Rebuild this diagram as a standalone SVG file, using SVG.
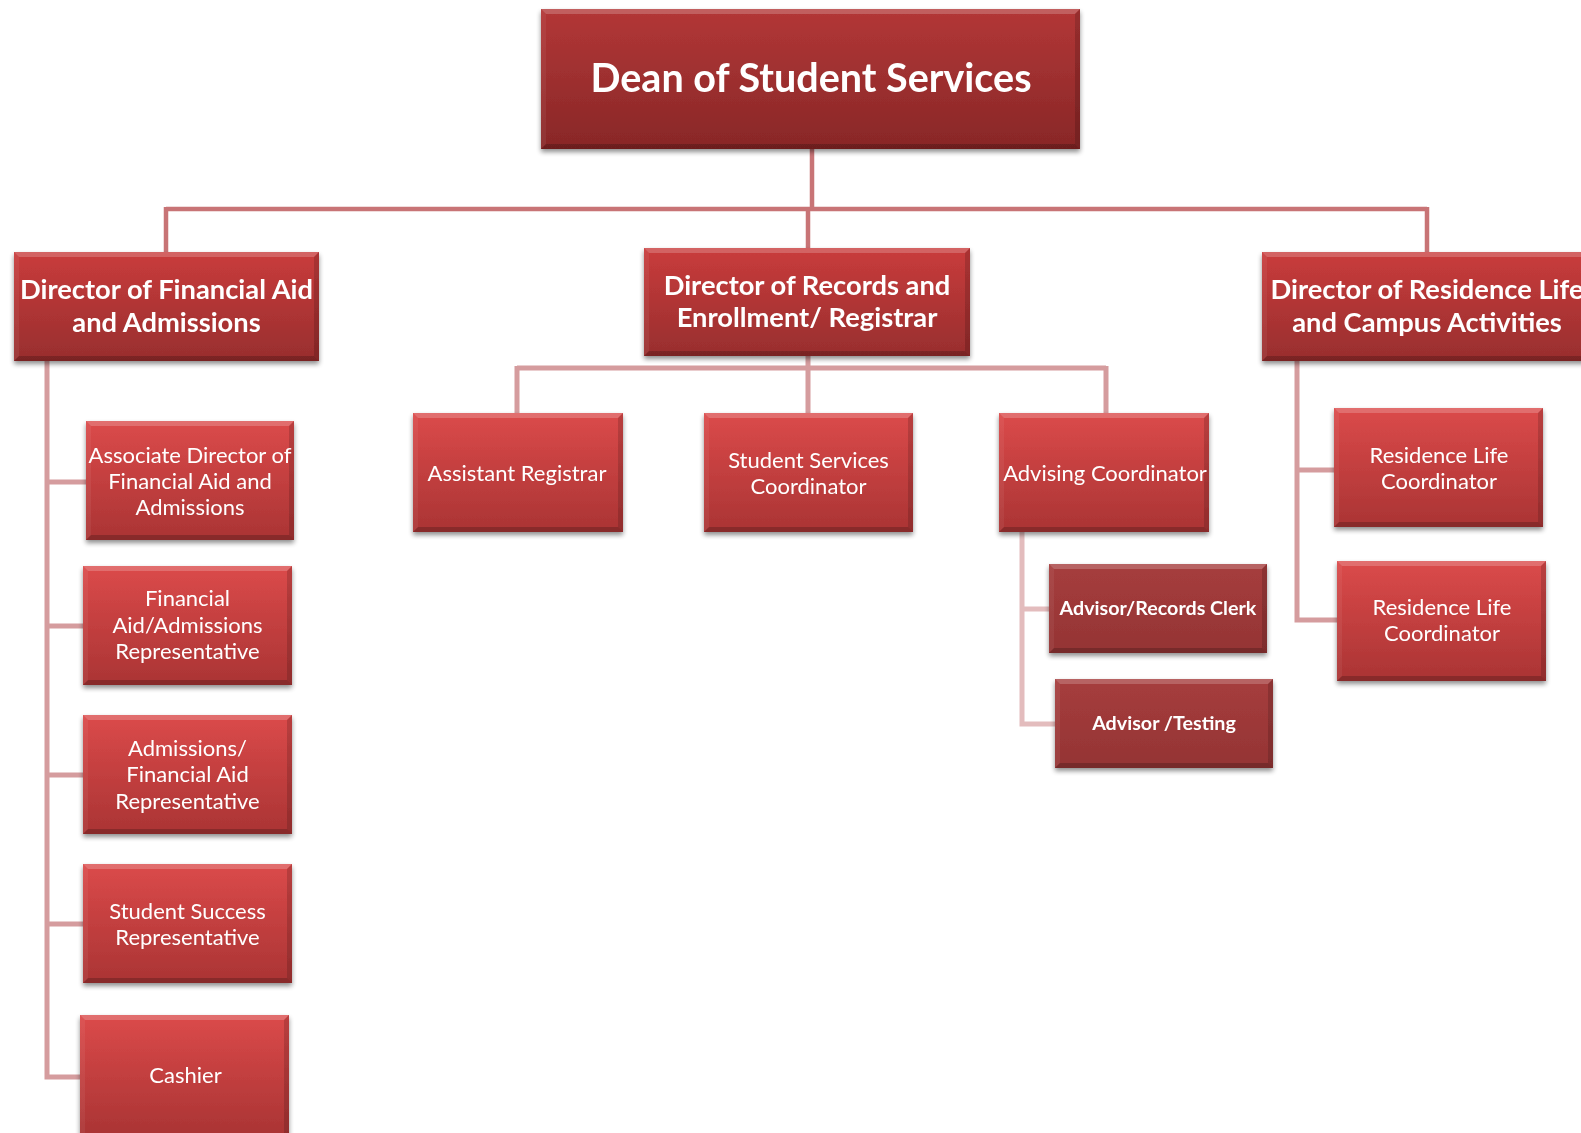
<svg xmlns="http://www.w3.org/2000/svg" width="1581" height="1133" viewBox="0 0 1581 1133">
<defs>
<linearGradient id="gDean" x1="0" y1="0" x2="0" y2="1"><stop offset="0" stop-color="#b33737"/><stop offset="1" stop-color="#882727"/></linearGradient>
<linearGradient id="gL1" x1="0" y1="0" x2="0" y2="1"><stop offset="0" stop-color="#c93c3c"/><stop offset="1" stop-color="#982e2e"/></linearGradient>
<linearGradient id="gL2" x1="0" y1="0" x2="0" y2="1"><stop offset="0" stop-color="#db4a4a"/><stop offset="1" stop-color="#aa3434"/></linearGradient>
<linearGradient id="gDark" x1="0" y1="0" x2="0" y2="1"><stop offset="0" stop-color="#a63d3d"/><stop offset="1" stop-color="#943434"/></linearGradient>
<filter id="sh" x="-10%" y="-10%" width="120%" height="130%"><feGaussianBlur in="SourceAlpha" stdDeviation="2.5"/><feOffset dy="3" result="b"/><feComponentTransfer><feFuncA type="linear" slope="0.45"/></feComponentTransfer><feMerge><feMergeNode/><feMergeNode in="SourceGraphic"/></feMerge></filter>
</defs>
<style>
.bt{fill:#ffffff;fill-opacity:0.2}
.bl{fill:#ffffff;fill-opacity:0.06}
.br{fill:#000000;fill-opacity:0.15}
.bb{fill:#000000;fill-opacity:0.2}
.c0{fill:none;stroke:#c87476;stroke-width:4.5}
.c1{fill:none;stroke:#d59c9e;stroke-width:5}
.c2{fill:none;stroke:#e3bcbd;stroke-width:5}
text{fill:#ffffff;font-family:Lato,"Liberation Sans",sans-serif;text-anchor:middle}
.h0{font-size:39.5px;font-weight:bold}
.h1{font-size:27.3px;font-weight:bold}
.t2{font-size:22px}
.t3{font-size:19.7px;font-weight:bold}
</style>
<rect width="1581" height="1133" fill="#ffffff"/>
<g id="connectors">
<path class="c0" d="M812,149 V209 M166,209 H1427 M166,207 V252 M808,209 V248 M1427,207 V252"/>
<path class="c1" d="M808,356 V413 M517,368 H1106 M517,366 V413 M1106,366 V413"/>
<path class="c1" d="M47,361 V1077 M47,482 H86 M47,626 H83 M47,775 H83 M47,924 H83 M44.5,1077 H80"/>
<path class="c1" d="M1297,361 V620 M1297,470 H1334 M1294.5,620 H1337"/>
<path class="c2" d="M1022,532 V724 M1022,609 H1049 M1019.5,724 H1055"/>
</g>
<g id="dean" filter="url(#sh)">
<rect x="541" y="9" width="539" height="140" fill="url(#gDean)"/>
<polygon class="bt" points="541,9 1080,9 1075,14 546,14"/><polygon class="bl" points="541,9 546,14 546,144 541,149"/><polygon class="br" points="1080,9 1080,149 1075,144 1075,14"/><polygon class="bb" points="541,149 1080,149 1075,144 546,144"/>
<text class="h0" x="811" y="92">Dean of Student Services</text>
</g>
<g id="finaid" filter="url(#sh)">
<rect x="14" y="252" width="305" height="109" fill="url(#gL1)"/>
<polygon class="bt" points="14,252 319,252 314,257 19,257"/><polygon class="bl" points="14,252 19,257 19,356 14,361"/><polygon class="br" points="319,252 319,361 314,356 314,257"/><polygon class="bb" points="14,361 319,361 314,356 19,356"/>
<text class="h1" x="166.5" y="299">Director of Financial Aid</text>
<text class="h1" x="166.5" y="332">and Admissions</text>
</g>
<g id="records" filter="url(#sh)">
<rect x="644" y="248" width="326" height="108" fill="url(#gL1)"/>
<polygon class="bt" points="644,248 970,248 965,253 649,253"/><polygon class="bl" points="644,248 649,253 649,351 644,356"/><polygon class="br" points="970,248 970,356 965,351 965,253"/><polygon class="bb" points="644,356 970,356 965,351 649,351"/>
<text class="h1" x="807" y="295">Director of Records and</text>
<text class="h1" x="807" y="327">Enrollment/ Registrar</text>
</g>
<g id="residence" filter="url(#sh)">
<rect x="1262" y="252" width="330" height="109" fill="url(#gL1)"/>
<polygon class="bt" points="1262,252 1592,252 1587,257 1267,257"/><polygon class="bl" points="1262,252 1267,257 1267,356 1262,361"/><polygon class="bb" points="1262,361 1592,361 1587,356 1267,356"/>
<text class="h1" x="1427" y="299">Director of Residence Life</text>
<text class="h1" x="1427" y="332">and Campus Activities</text>
</g>
<g id="assoc" filter="url(#sh)">
<rect x="86" y="421" width="208" height="119" fill="url(#gL2)"/>
<polygon class="bt" points="86,421 294,421 289,426 91,426"/><polygon class="bl" points="86,421 91,426 91,535 86,540"/><polygon class="br" points="294,421 294,540 289,535 289,426"/><polygon class="bb" points="86,540 294,540 289,535 91,535"/>
<text class="t2" x="190" y="463">Associate Director of</text>
<text class="t2" x="190" y="489">Financial Aid and</text>
<text class="t2" x="190" y="515">Admissions</text>
</g>
<g id="far" filter="url(#sh)">
<rect x="83" y="566" width="209" height="119" fill="url(#gL2)"/>
<polygon class="bt" points="83,566 292,566 287,571 88,571"/><polygon class="bl" points="83,566 88,571 88,680 83,685"/><polygon class="br" points="292,566 292,685 287,680 287,571"/><polygon class="bb" points="83,685 292,685 287,680 88,680"/>
<text class="t2" x="187.5" y="606">Financial</text>
<text class="t2" x="187.5" y="633">Aid/Admissions</text>
<text class="t2" x="187.5" y="659">Representative</text>
</g>
<g id="afar" filter="url(#sh)">
<rect x="83" y="715" width="209" height="119" fill="url(#gL2)"/>
<polygon class="bt" points="83,715 292,715 287,720 88,720"/><polygon class="bl" points="83,715 88,720 88,829 83,834"/><polygon class="br" points="292,715 292,834 287,829 287,720"/><polygon class="bb" points="83,834 292,834 287,829 88,829"/>
<text class="t2" x="187.5" y="756">Admissions/</text>
<text class="t2" x="187.5" y="782">Financial Aid</text>
<text class="t2" x="187.5" y="809">Representative</text>
</g>
<g id="ssr" filter="url(#sh)">
<rect x="83" y="864" width="209" height="119" fill="url(#gL2)"/>
<polygon class="bt" points="83,864 292,864 287,869 88,869"/><polygon class="bl" points="83,864 88,869 88,978 83,983"/><polygon class="br" points="292,864 292,983 287,978 287,869"/><polygon class="bb" points="83,983 292,983 287,978 88,978"/>
<text class="t2" x="187.5" y="919">Student Success</text>
<text class="t2" x="187.5" y="945">Representative</text>
</g>
<g id="cashier" filter="url(#sh)">
<rect x="80" y="1015" width="209" height="120" fill="url(#gL2)"/>
<polygon class="bt" points="80,1015 289,1015 284,1020 85,1020"/><polygon class="bl" points="80,1015 85,1020 85,1135 80,1135"/><polygon class="br" points="289,1015 289,1135 284,1135 284,1020"/>
<text class="t2" x="185.5" y="1083">Cashier</text>
</g>
<g id="asstreg" filter="url(#sh)">
<rect x="413" y="413" width="210" height="119" fill="url(#gL2)"/>
<polygon class="bt" points="413,413 623,413 618,418 418,418"/><polygon class="bl" points="413,413 418,418 418,527 413,532"/><polygon class="br" points="623,413 623,532 618,527 618,418"/><polygon class="bb" points="413,532 623,532 618,527 418,527"/>
<text class="t2" x="517" y="481">Assistant Registrar</text>
</g>
<g id="ssc" filter="url(#sh)">
<rect x="704" y="413" width="209" height="119" fill="url(#gL2)"/>
<polygon class="bt" points="704,413 913,413 908,418 709,418"/><polygon class="bl" points="704,413 709,418 709,527 704,532"/><polygon class="br" points="913,413 913,532 908,527 908,418"/><polygon class="bb" points="704,532 913,532 908,527 709,527"/>
<text class="t2" x="808.5" y="468">Student Services</text>
<text class="t2" x="808.5" y="494">Coordinator</text>
</g>
<g id="advising" filter="url(#sh)">
<rect x="999" y="413" width="210" height="119" fill="url(#gL2)"/>
<polygon class="bt" points="999,413 1209,413 1204,418 1004,418"/><polygon class="bl" points="999,413 1004,418 1004,527 999,532"/><polygon class="br" points="1209,413 1209,532 1204,527 1204,418"/><polygon class="bb" points="999,532 1209,532 1204,527 1004,527"/>
<text class="t2" x="1105" y="481">Advising Coordinator</text>
</g>
<g id="arc" filter="url(#sh)">
<rect x="1049" y="564" width="218" height="89" fill="url(#gDark)"/>
<polygon class="bt" points="1049,564 1267,564 1262,569 1054,569"/><polygon class="bl" points="1049,564 1054,569 1054,648 1049,653"/><polygon class="br" points="1267,564 1267,653 1262,648 1262,569"/><polygon class="bb" points="1049,653 1267,653 1262,648 1054,648"/>
<text class="t3" x="1158" y="615">Advisor/Records Clerk</text>
</g>
<g id="testing" filter="url(#sh)">
<rect x="1055" y="679" width="218" height="89" fill="url(#gDark)"/>
<polygon class="bt" points="1055,679 1273,679 1268,684 1060,684"/><polygon class="bl" points="1055,679 1060,684 1060,763 1055,768"/><polygon class="br" points="1273,679 1273,768 1268,763 1268,684"/><polygon class="bb" points="1055,768 1273,768 1268,763 1060,763"/>
<text class="t3" x="1164" y="730">Advisor /Testing</text>
</g>
<g id="rlc1" filter="url(#sh)">
<rect x="1334" y="408" width="209" height="119" fill="url(#gL2)"/>
<polygon class="bt" points="1334,408 1543,408 1538,413 1339,413"/><polygon class="bl" points="1334,408 1339,413 1339,522 1334,527"/><polygon class="br" points="1543,408 1543,527 1538,522 1538,413"/><polygon class="bb" points="1334,527 1543,527 1538,522 1339,522"/>
<text class="t2" x="1439" y="463">Residence Life</text>
<text class="t2" x="1439" y="489">Coordinator</text>
</g>
<g id="rlc2" filter="url(#sh)">
<rect x="1337" y="561" width="209" height="120" fill="url(#gL2)"/>
<polygon class="bt" points="1337,561 1546,561 1541,566 1342,566"/><polygon class="bl" points="1337,561 1342,566 1342,676 1337,681"/><polygon class="br" points="1546,561 1546,681 1541,676 1541,566"/><polygon class="bb" points="1337,681 1546,681 1541,676 1342,676"/>
<text class="t2" x="1442" y="615">Residence Life</text>
<text class="t2" x="1442" y="641">Coordinator</text>
</g>
</svg>
